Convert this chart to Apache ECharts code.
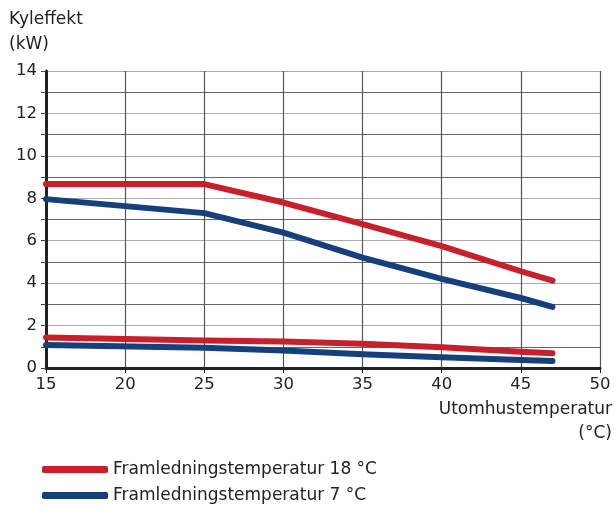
<!DOCTYPE html>
<html><head><meta charset="utf-8">
<script src="https://cdn.jsdelivr.net/npm/echarts@6/dist/echarts.min.js"></script>
<style>html,body{margin:0;padding:0;background:#fff}#c{width:614px;height:510px}</style>
</head><body><div id="c"></div>
<script>
const xTemps = [15, 25, 30, 35, 40, 45, 47];
const red18Upper = [8.67, 8.67, 7.8, 6.78, 5.75, 4.56, 4.12];
const red18Lower = [1.44, 1.3, 1.25, 1.14, 0.98, 0.77, 0.7];
const blue7Upper = [7.96, 7.3, 6.38, 5.2, 4.2, 3.3, 2.88];
const blue7Lower = [1.09, 0.96, 0.82, 0.65, 0.51, 0.38, 0.33];
const seriesNames = ['Framledningstemperatur 18 °C', 'Framledningstemperatur 7 °C'];
const yTitle = 'Kyleffekt\n(kW)';
const xTitleLines = ['Utomhustemperatur', '(°C)'];
const RED = '#c8202b', BLUE = '#153f7d';
const FONT = 'DejaVu Sans';
const pts = arr => xTemps.map((x, i) => [x, arr[i]]);
const mk = (name, data, color) => ({
  name, type: 'line', data, symbol: 'none', silent: true,
  lineStyle: { color, width: 6, cap: 'round', join: 'round' }, itemStyle: { color }
});
const lg = (name, top) => ({
  left: 42, top, itemWidth: 66, itemHeight: 7, padding: 0, itemGap: 0,
  icon: 'roundRect', textStyle: { fontSize: 17, color: '#222', fontFamily: FONT },
  data: [name]
});
const chart = echarts.init(document.getElementById('c'));
chart.setOption({
  animation: false,
  textStyle: { fontFamily: FONT },
  title: { text: yTitle, left: 4, top: 2, textStyle: { fontFamily: FONT, fontSize: 17, fontWeight: 'normal', color: '#222', lineHeight: 25 } },
  graphic: [
    { type: 'text', right: 2, top: 401, style: { text: xTitleLines[0], font: '17px "DejaVu Sans"', fill: '#222' } },
    { type: 'text', right: 2, top: 425, style: { text: xTitleLines[1], font: '17px "DejaVu Sans"', fill: '#222' } }
  ],
  grid: { left: 46, right: 14, top: 71, bottom: 142 },
  legend: [lg(seriesNames[0], 461), lg(seriesNames[1], 487)],
  xAxis: {
    type: 'value', min: 15, max: 50, interval: 5,
    axisLine: { onZero: false, lineStyle: { color: '#222', width: 3 } },
    axisTick: { show: true, length: 5, lineStyle: { color: '#222', width: 1 } },
    axisLabel: { fontSize: 16.5, color: '#222', margin: 8, fontFamily: FONT },
    splitLine: { show: true, lineStyle: { color: '#555', width: 1.2 } }
  },
  yAxis: {
    type: 'value', min: 0, max: 14, interval: 1,
    axisLine: { show: true, lineStyle: { color: '#222', width: 3 } },
    axisTick: { show: true, length: 5, lineStyle: { color: '#444', width: 1 } },
    axisLabel: { fontSize: 16.5, color: '#222', margin: 9, fontFamily: FONT, formatter: v => (v % 2 === 0 ? String(v) : '') },
    splitLine: { show: true, lineStyle: { color: ['#aaa', '#666'], width: 1.2 } }
  },
  series: [
    mk(seriesNames[0], pts(red18Upper), RED),
    mk(seriesNames[0], pts(red18Lower), RED),
    mk(seriesNames[1], pts(blue7Upper), BLUE),
    mk(seriesNames[1], pts(blue7Lower), BLUE)
  ]
});
</script></body></html>
